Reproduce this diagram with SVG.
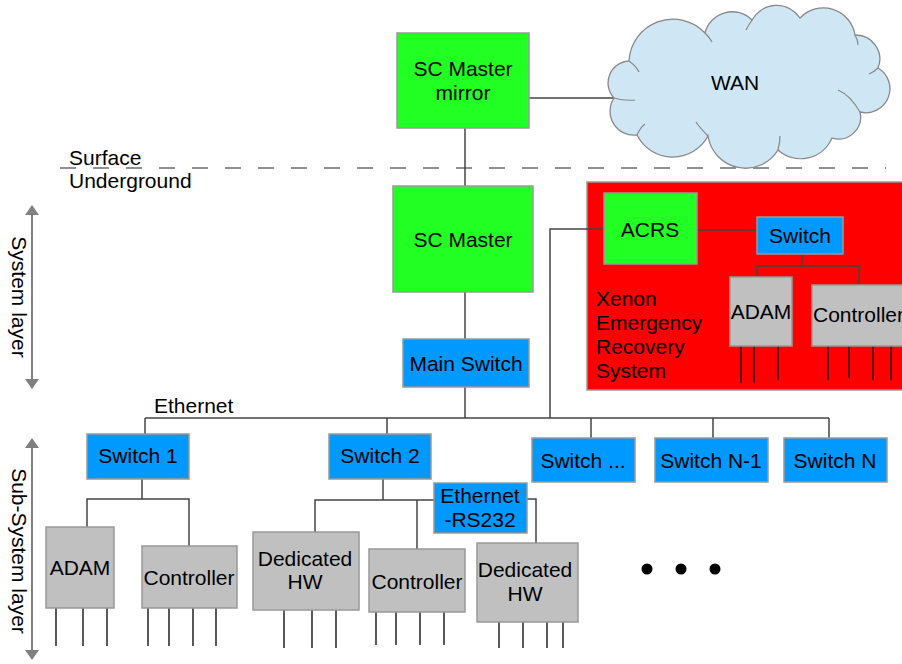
<svg xmlns="http://www.w3.org/2000/svg" width="902" height="664" viewBox="0 0 902 664">
<defs>
<style>
text{font-family:"Liberation Sans",Arial,sans-serif;font-size:21px;fill:#000}
.c{text-anchor:middle}
.g{fill:#22ff22;stroke:#999;stroke-width:1.5}
.b{fill:#0099ff;stroke:#999;stroke-width:1.5}
.d{fill:#c0c0c0;stroke:#999;stroke-width:1.5}
.ln{fill:none;stroke:#444;stroke-width:1.5}
.w{fill:none;stroke:#000;stroke-width:1.3}
.ax{stroke:#808080;stroke-width:2}
</style>
<marker id="ah" viewBox="0 0 10 14" refX="9" refY="7" markerWidth="10" markerHeight="14" markerUnits="userSpaceOnUse" orient="auto-start-reverse">
<path d="M0,0 L10,7 L0,14 z" fill="#808080"/>
</marker>
</defs>

<g id="surface-line">
<line x1="60" y1="168" x2="886" y2="168" stroke="#222" stroke-width="1.2" stroke-dasharray="16 17"/>
<text x="69" y="165">Surface</text>
<text x="69" y="188">Underground</text>
</g>

<g id="layer-axes">
<line class="ax" x1="32" y1="206" x2="32" y2="388" marker-start="url(#ah)" marker-end="url(#ah)"/>
<text class="c" transform="translate(12,297) rotate(90)">System layer</text>
<line class="ax" x1="32" y1="439" x2="32" y2="659" marker-start="url(#ah)" marker-end="url(#ah)"/>
<text class="c" transform="translate(12,551) rotate(90)">Sub-System layer</text>
</g>

<g id="xers">
<rect x="587" y="182" width="320" height="208" fill="#ff0000" stroke="#999" stroke-width="1.5"/>
<text x="596" y="306">Xenon</text>
<text x="596" y="330">Emergency</text>
<text x="596" y="354">Recovery</text>
<text x="596" y="378">System</text>
</g>

<g id="connectors">
<line class="ln" x1="529" y1="98" x2="613" y2="98"/>
<line class="ln" x1="465" y1="128" x2="465" y2="186"/>
<line class="ln" x1="465" y1="292" x2="465" y2="339"/>
<line class="ln" x1="465" y1="387" x2="465" y2="418"/>
<polyline class="ln" points="550,418 550,229 604,229"/>
<line class="ln" x1="145" y1="418" x2="829" y2="418"/>
<line class="ln" x1="145" y1="418" x2="145" y2="434"/>
<line class="ln" x1="387" y1="418" x2="387" y2="434"/>
<line class="ln" x1="591" y1="418" x2="591" y2="438"/>
<line class="ln" x1="713" y1="418" x2="713" y2="438"/>
<line class="ln" x1="829" y1="418" x2="829" y2="438"/>
<line class="ln" x1="697" y1="230" x2="757" y2="230"/>
<polyline class="ln" points="802,254 802,266"/>
<polyline class="ln" points="757,277 757,266 859,266 859,285"/>
<line class="ln" x1="142" y1="479" x2="142" y2="499"/>
<polyline class="ln" points="87,527 87,499 189,499 189,546"/>
<line class="ln" x1="383" y1="479" x2="383" y2="500"/>
<polyline class="ln" points="315,532 315,500 434,500"/>
<line class="ln" x1="417" y1="500" x2="417" y2="549"/>
<polyline class="ln" points="527,499 536,499 536,543"/>
</g>

<g id="wires">
<path class="w" d="M741,346V383M754,346V383M778,346V380M828,346V380M849,346V378M873,346V380M891,346V380"/>
<path class="w" d="M56,608V646M83,608V646M107,608V646M148,608V646M169,608V646M193,608V646M216,608V646"/>
<path class="w" d="M284,610V648M312,610V648M336,610V648M376,612V645M396,612V645M420,612V645M444,612V645"/>
<path class="w" d="M499,622V648M523,622V648M547,622V648M563,622V648"/>
</g>

<g id="wan">
<path d="M614,98 A22,22 0 0 1 629,61 A44,44 0 0 1 705,33 A28,28 0 0 1 752,20 A28,28 0 0 1 800,18 A32,32 0 0 1 855,35 A24,24 0 0 1 878,68 A24,24 0 0 1 860,112 A22,22 0 0 1 832,138 A34,34 0 0 1 778,150 A38,38 0 0 1 708,136 A40,40 0 0 1 637,135 A24,24 0 0 1 614,98 Z" fill="#cfe7f5" stroke="#888" stroke-width="1.3"/>
<path d="M614,98 Q624,101 635,100 M629,61 Q636,66 639,72 M705,33 Q710,38 712,42 M752,20 Q748,26 746,30 M855,35 Q858,40 858,45 M878,68 Q874,72 869,74 M860,112 Q850,95 838,90 M778,150 Q780,142 780,136 M708,136 Q700,128 696,122 M637,135 Q640,128 645,124" fill="none" stroke="#888" stroke-width="1.2"/>
<text class="c" x="735" y="90">WAN</text>
</g>

<g id="sc-master-mirror">
<rect class="g" x="397" y="33" width="132" height="95"/>
<text class="c" x="463" y="76">SC Master</text>
<text class="c" x="463" y="100">mirror</text>
</g>
<g id="sc-master">
<rect class="g" x="393" y="186" width="140" height="106"/>
<text class="c" x="463" y="247">SC Master</text>
</g>
<g id="main-switch">
<rect class="b" x="403" y="339" width="126" height="48"/>
<text class="c" x="466" y="371">Main Switch</text>
</g>
<g id="acrs">
<rect class="g" x="604" y="193" width="93" height="71"/>
<text class="c" x="650" y="237">ACRS</text>
</g>
<g id="xers-switch">
<rect class="b" x="757" y="217" width="86" height="37"/>
<text class="c" x="800" y="243">Switch</text>
</g>
<g id="xers-adam">
<rect class="d" x="730" y="277" width="62" height="69"/>
<text class="c" x="761" y="319">ADAM</text>
</g>
<g id="xers-controller">
<rect class="d" x="812" y="285" width="100" height="61"/>
<text x="813" y="322">Controller</text>
</g>

<g id="switch-1">
<rect class="b" x="87" y="434" width="102" height="45"/>
<text class="c" x="138" y="463">Switch 1</text>
</g>
<g id="switch-2">
<rect class="b" x="329" y="434" width="102" height="45"/>
<text class="c" x="380" y="463">Switch 2</text>
</g>
<g id="switch-dots">
<rect class="b" x="532" y="438" width="103" height="44"/>
<text class="c" x="583" y="468">Switch ...</text>
</g>
<g id="switch-n-1">
<rect class="b" x="655" y="438" width="113" height="44"/>
<text class="c" x="711" y="468">Switch N-1</text>
</g>
<g id="switch-n">
<rect class="b" x="784" y="438" width="103" height="44"/>
<text class="c" x="835" y="468">Switch N</text>
</g>
<text x="154" y="413" id="ethernet-label">Ethernet</text>

<g id="adam-1">
<rect class="d" x="46" y="527" width="68" height="81"/>
<text class="c" x="80" y="575">ADAM</text>
</g>
<g id="controller-1">
<rect class="d" x="142" y="546" width="95" height="62"/>
<text class="c" x="189" y="585">Controller</text>
</g>
<g id="dedicated-hw-1">
<rect class="d" x="253" y="532" width="106" height="78"/>
<text class="c" x="305" y="566">Dedicated</text>
<text class="c" x="305" y="589">HW</text>
</g>
<g id="controller-2">
<rect class="d" x="369" y="549" width="96" height="63"/>
<text class="c" x="417" y="589">Controller</text>
</g>
<g id="ethernet-rs232">
<rect class="b" x="434" y="483" width="93" height="50"/>
<text class="c" x="480" y="503">Ethernet</text>
<text class="c" x="480" y="527">-RS232</text>
</g>
<g id="dedicated-hw-2">
<rect class="d" x="477" y="543" width="101" height="79"/>
<text class="c" x="525" y="577">Dedicated</text>
<text class="c" x="525" y="601">HW</text>
</g>
<g id="more-dots">
<circle cx="647" cy="569" r="5.5"/>
<circle cx="681" cy="569" r="5.5"/>
<circle cx="715" cy="569" r="5.5"/>
</g>
</svg>
